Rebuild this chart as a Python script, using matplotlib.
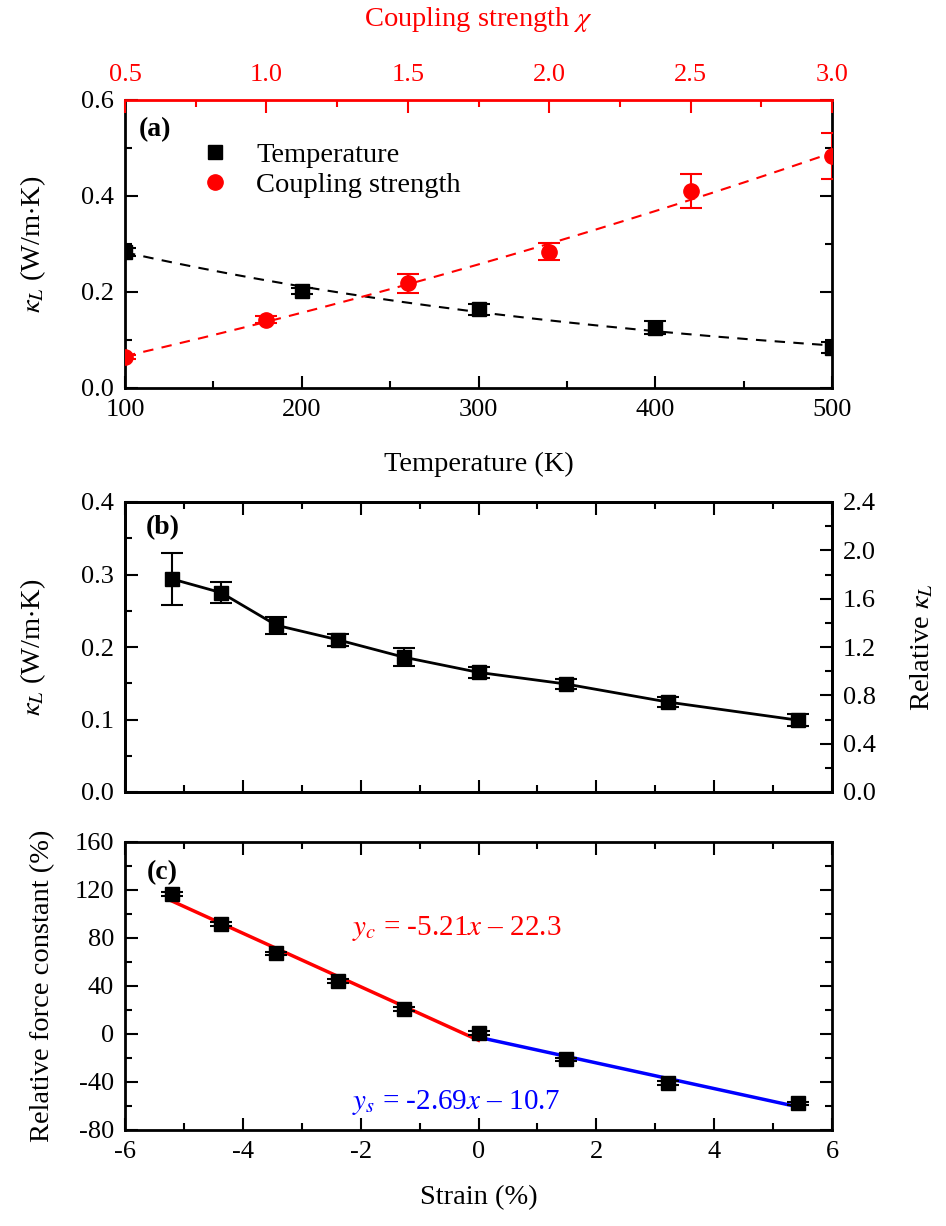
import numpy as np
import matplotlib
matplotlib.use("Agg")
import matplotlib.pyplot as plt
from matplotlib.lines import Line2D
from matplotlib.ticker import MultipleLocator

plt.rcParams['font.family'] = ['Liberation Serif', 'DejaVu Serif']
plt.rcParams['mathtext.fontset'] = 'stix'
plt.rcParams['axes.unicode_minus'] = False

# ---- (a) lattice thermal conductivity vs temperature ----
temperature = [100, 200, 300, 400, 500]
kappa_temp = [0.283, 0.202, 0.164, 0.126, 0.084]
kappa_temp_err = [0.008, 0.006, 0.011, 0.013, 0.012]

# ---- (a) lattice thermal conductivity vs coupling strength ----
coupling = [0.5, 1.0, 1.5, 2.0, 2.5, 3.0]
kappa_chi = [0.065, 0.142, 0.218, 0.284, 0.410, 0.484]
kappa_chi_err = [0.004, 0.007, 0.020, 0.018, 0.035, 0.048]

# ---- (b) lattice thermal conductivity vs strain ----
strain = [-5.21, -4.37, -3.43, -2.39, -1.27, 0.0, 1.48, 3.22, 5.43]
kappa_strain = [0.294, 0.275, 0.230, 0.210, 0.186, 0.165, 0.149, 0.124, 0.099]
kappa_strain_err = [0.036, 0.014, 0.012, 0.008, 0.012, 0.008, 0.007, 0.007, 0.008]

# ---- (c) relative force constant vs strain ----
force_const = [116.6, 91.5, 67.1, 44.0, 20.9, 0.6, -21.1, -40.6, -57.9]
force_const_err = [1.5, 1.5, 1.5, 1.5, 1.5, 1.5, 1.5, 1.5, 1.5]
fit_c = (-22.3, -5.21)   # compressive branch: slope, intercept
fit_s = (-10.7, -2.69)   # tensile branch: slope, intercept

RED = '#ff0000'
BLUE = '#0000ff'
TICK_FS = 19
LABEL_FS = 20.5

W_PX, H_PX = 946, 1226
fig = plt.figure(figsize=(W_PX / 100, H_PX / 100), dpi=100)


def rect(top_px, bottom_px, left_px=125, right_px=832):
    return [left_px / W_PX, 1 - bottom_px / H_PX,
            (right_px - left_px) / W_PX, (bottom_px - top_px) / H_PX]


def style(ax, **kw):
    ax.tick_params(which='both', direction='in', width=1.5,
                   labelsize=TICK_FS, pad=8, **kw)
    ax.tick_params(which='major', length=9)
    ax.tick_params(which='minor', length=5)
    for s in ax.spines.values():
        s.set_linewidth(2)


ax_a = fig.add_axes(rect(100, 388))
ax_b = fig.add_axes(rect(502, 792))
ax_c = fig.add_axes(rect(842, 1130), sharex=ax_b)

eb_kw = dict(capsize=8, elinewidth=1.5, capthick=1.5)

# ================= panel (a) =================
ax_a.set_xlim(100, 500)
ax_a.set_ylim(0, 0.6)
ax_a.xaxis.set_major_locator(MultipleLocator(100))
ax_a.xaxis.set_minor_locator(MultipleLocator(50))
ax_a.yaxis.set_major_locator(MultipleLocator(0.2))
ax_a.yaxis.set_minor_locator(MultipleLocator(0.1))
style(ax_a, top=False, right=True, left=True, bottom=True)
ax_a.spines['top'].set_visible(False)

ax_a.errorbar(temperature, kappa_temp, yerr=kappa_temp_err, fmt='s',
              color='k', ms=10, zorder=3, **eb_kw)
coef_t = np.polyfit(temperature, np.log(kappa_temp), 1)
tt = np.linspace(temperature[0], temperature[-1], 200)
ax_a.plot(tt, np.exp(np.polyval(coef_t, tt)), color='k', lw=1.5,
          dashes=(5, 4), zorder=2)

ax_a.set_xlabel('Temperature (K)', fontsize=LABEL_FS, va='center')
ax_a.xaxis.set_label_coords(0.5, -0.267)
ax_a.set_ylabel(r'$\kappa_L$ (W/m$\cdot$K)', fontsize=LABEL_FS, va='center')
ax_a.yaxis.set_label_coords(-0.130, 0.5)

ax_t = ax_a.twiny()
ax_t.set_xlim(0.5, 3.0)
ax_t.xaxis.set_major_locator(MultipleLocator(0.5))
ax_t.xaxis.set_minor_locator(MultipleLocator(0.25))
ax_t.tick_params(axis='x', which='both', direction='in', width=1.5,
                 labelsize=TICK_FS, pad=10, colors=RED)
ax_t.tick_params(axis='x', which='major', length=9)
ax_t.tick_params(axis='x', which='minor', length=5)
for name, s in ax_t.spines.items():
    s.set_linewidth(2)
    if name == 'top':
        s.set_color(RED)
    else:
        s.set_visible(False)

ax_t.errorbar(coupling, kappa_chi, yerr=kappa_chi_err, fmt='o',
              color=RED, ms=11, zorder=3, **eb_kw)
coef_c = np.polyfit(coupling, kappa_chi, 2)
cc = np.linspace(coupling[0], coupling[-1], 200)
ax_t.plot(cc, np.polyval(coef_c, cc), color=RED, lw=1.5,
          dashes=(5, 4), zorder=2)
ax_t.set_xlabel(r'Coupling strength $\chi$', fontsize=LABEL_FS,
                color=RED, va='center')
ax_t.xaxis.set_label_coords(0.5, 1.281)

handles = [Line2D([], [], ls='none', marker='s', color='k', ms=10),
           Line2D([], [], ls='none', marker='o', color=RED, ms=11)]
ax_t.legend(handles, ['Temperature', 'Coupling strength'],
            loc='upper left', bbox_to_anchor=(0.1075, 0.855),
            frameon=False, fontsize=LABEL_FS, handlelength=1.0,
            handletextpad=0.94, labelspacing=0.15, borderpad=0,
            borderaxespad=0)
ax_t.text(0.043, 0.896, '(a)', transform=ax_a.transAxes, fontsize=20,
          fontweight='bold', ha='center', va='center')

# ================= panel (b) =================
ax_b.set_xlim(-6, 6)
ax_b.set_ylim(0, 0.4)
ax_b.xaxis.set_major_locator(MultipleLocator(2))
ax_b.xaxis.set_minor_locator(MultipleLocator(1))
ax_b.yaxis.set_major_locator(MultipleLocator(0.1))
ax_b.yaxis.set_minor_locator(MultipleLocator(0.05))
style(ax_b, top=True, right=False, labelbottom=False)
ax_b.errorbar(strain, kappa_strain, yerr=kappa_strain_err, fmt='s-',
              color='k', ms=10, lw=2, zorder=3, **eb_kw)
ax_b.set_ylabel(r'$\kappa_L$ (W/m$\cdot$K)', fontsize=LABEL_FS, va='center')
ax_b.yaxis.set_label_coords(-0.130, 0.5)
ax_b.text(0.054, 0.91, '(b)', transform=ax_b.transAxes, fontsize=20,
          fontweight='bold', ha='center', va='center')

ax_r = ax_b.twinx()
ax_r.set_ylim(0, 2.4)
ax_r.yaxis.set_major_locator(MultipleLocator(0.4))
ax_r.yaxis.set_minor_locator(MultipleLocator(0.2))
style(ax_r, right=True, left=False)
ax_r.set_ylabel(r'Relative $\kappa_L$', fontsize=LABEL_FS, va='center')
ax_r.yaxis.set_label_coords(1.127, 0.5)

# ================= panel (c) =================
ax_c.set_ylim(-80, 160)
ax_c.yaxis.set_major_locator(MultipleLocator(40))
ax_c.yaxis.set_minor_locator(MultipleLocator(20))
style(ax_c, top=True, right=True)

xs = np.asarray(strain)
x_comp = np.linspace(xs.min(), 0, 50)
x_tens = np.linspace(0, xs.max(), 50)
ax_c.plot(x_comp, fit_c[0] * x_comp + fit_c[1], color=RED, lw=2.5, zorder=2)
ax_c.plot(x_tens, fit_s[0] * x_tens + fit_s[1], color=BLUE, lw=2.5, zorder=2)
ax_c.errorbar(strain, force_const, yerr=force_const_err, fmt='s',
              color='k', ms=10, zorder=3, **eb_kw)

ax_c.text(-2.15, 88, r'$y_c$ = %.2f$x$ – %.1f' % (fit_c[1], -fit_c[0]),
          color=RED, fontsize=21, ha='left', va='center')
ax_c.text(-2.15, -57, r'$y_s$ = %.2f$x$ – %.1f' % (fit_s[1], -fit_s[0]),
          color=BLUE, fontsize=21, ha='left', va='center')

ax_c.set_xlabel('Strain (%)', fontsize=LABEL_FS, va='center')
ax_c.xaxis.set_label_coords(0.5, -0.236)
ax_c.set_ylabel('Relative force constant (%)', fontsize=LABEL_FS, va='center')
ax_c.yaxis.set_label_coords(-0.116, 0.5)
ax_c.text(0.052, 0.892, '(c)', transform=ax_c.transAxes, fontsize=20,
          fontweight='bold', ha='center', va='center')

fig.savefig('out.png', dpi=100)
